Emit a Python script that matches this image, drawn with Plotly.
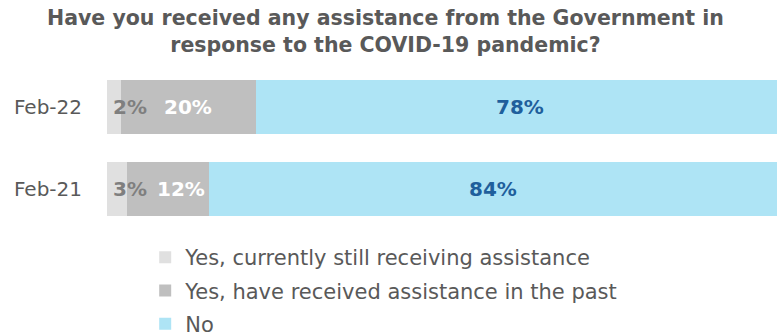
import plotly.graph_objects as go

categories = ["Feb-21", "Feb-22"]
series_names = ["Yes, currently still receiving assistance",
                "Yes, have received assistance in the past",
                "No"]
still_receiving = [3, 2]
past = [12, 20]
no = [84, 78]
values = [still_receiving, past, no]
title_lines = ["Have you received any assistance from the Government in",
               "response to the COVID-19 pandemic?"]

colors = ["#e0e0e0", "#bfbfbf", "#aee4f5"]
label_colors = ["#7f7f7f", "#ffffff", "#1f5f9c"]
font_family = "'DejaVu Sans', 'Open Sans', sans-serif"

fig = go.Figure()
for k, (name, vals, col) in enumerate(zip(series_names, values, colors)):
    fig.add_trace(go.Bar(
        y=categories, x=vals, name=name, orientation="h",
        legendgroup=f"g{k}",
        marker=dict(color=col, line=dict(width=0)),
        hoverinfo="x+y",
    ))

# data labels
for i, cat in enumerate(categories):
    base = 0
    for s, vals in enumerate(values):
        v = vals[i]
        if s == 0:
            x, anchor, shift = 0, "left", 4
        elif s == 1 and v < 15:
            x, anchor, shift = base + v, "right", -2
        else:
            x, anchor, shift = base + v / 2, "center", 0
        fig.add_annotation(
            x=x, y=cat, text=f"<b>{v}%</b>", showarrow=False,
            xanchor=anchor, xshift=shift,
            font=dict(family=font_family, size=20, color=label_colors[s]),
        )
        base += v

# title as centred annotation over the page
fig.add_annotation(
    x=0.416, xref="paper", xanchor="center",
    y=1.213, yref="paper", yanchor="middle",
    text="<b>" + "<br>".join(title_lines) + "</b>",
    showarrow=False, align="center",
    font=dict(family=font_family, size=20.5, color="#595959"),
)

fig.update_layout(
    width=777, height=336,
    barmode="stack", bargap=0.34,
    plot_bgcolor="white", paper_bgcolor="white",
    margin=dict(l=107, r=0, t=66, b=106, autoexpand=False),
    xaxis=dict(range=[0, 99], visible=False, fixedrange=True),
    yaxis=dict(showgrid=False, zeroline=False, showline=False,
               automargin=False,
               ticks="", ticklabelstandoff=24,
               tickfont=dict(family=font_family, size=20, color="#595959")),
    legend=dict(
        orientation="v", traceorder="grouped", tracegroupgap=3,
        x=0.057, xanchor="left", y=-0.043, yanchor="top",
        font=dict(family=font_family, size=21, color="#595959"),
        itemwidth=30, bgcolor="rgba(0,0,0,0)",
    ),
    showlegend=True,
)

fig.write_html("out.html", config={"displayModeBar": False},
               post_script="document.body.style.margin='0';")
